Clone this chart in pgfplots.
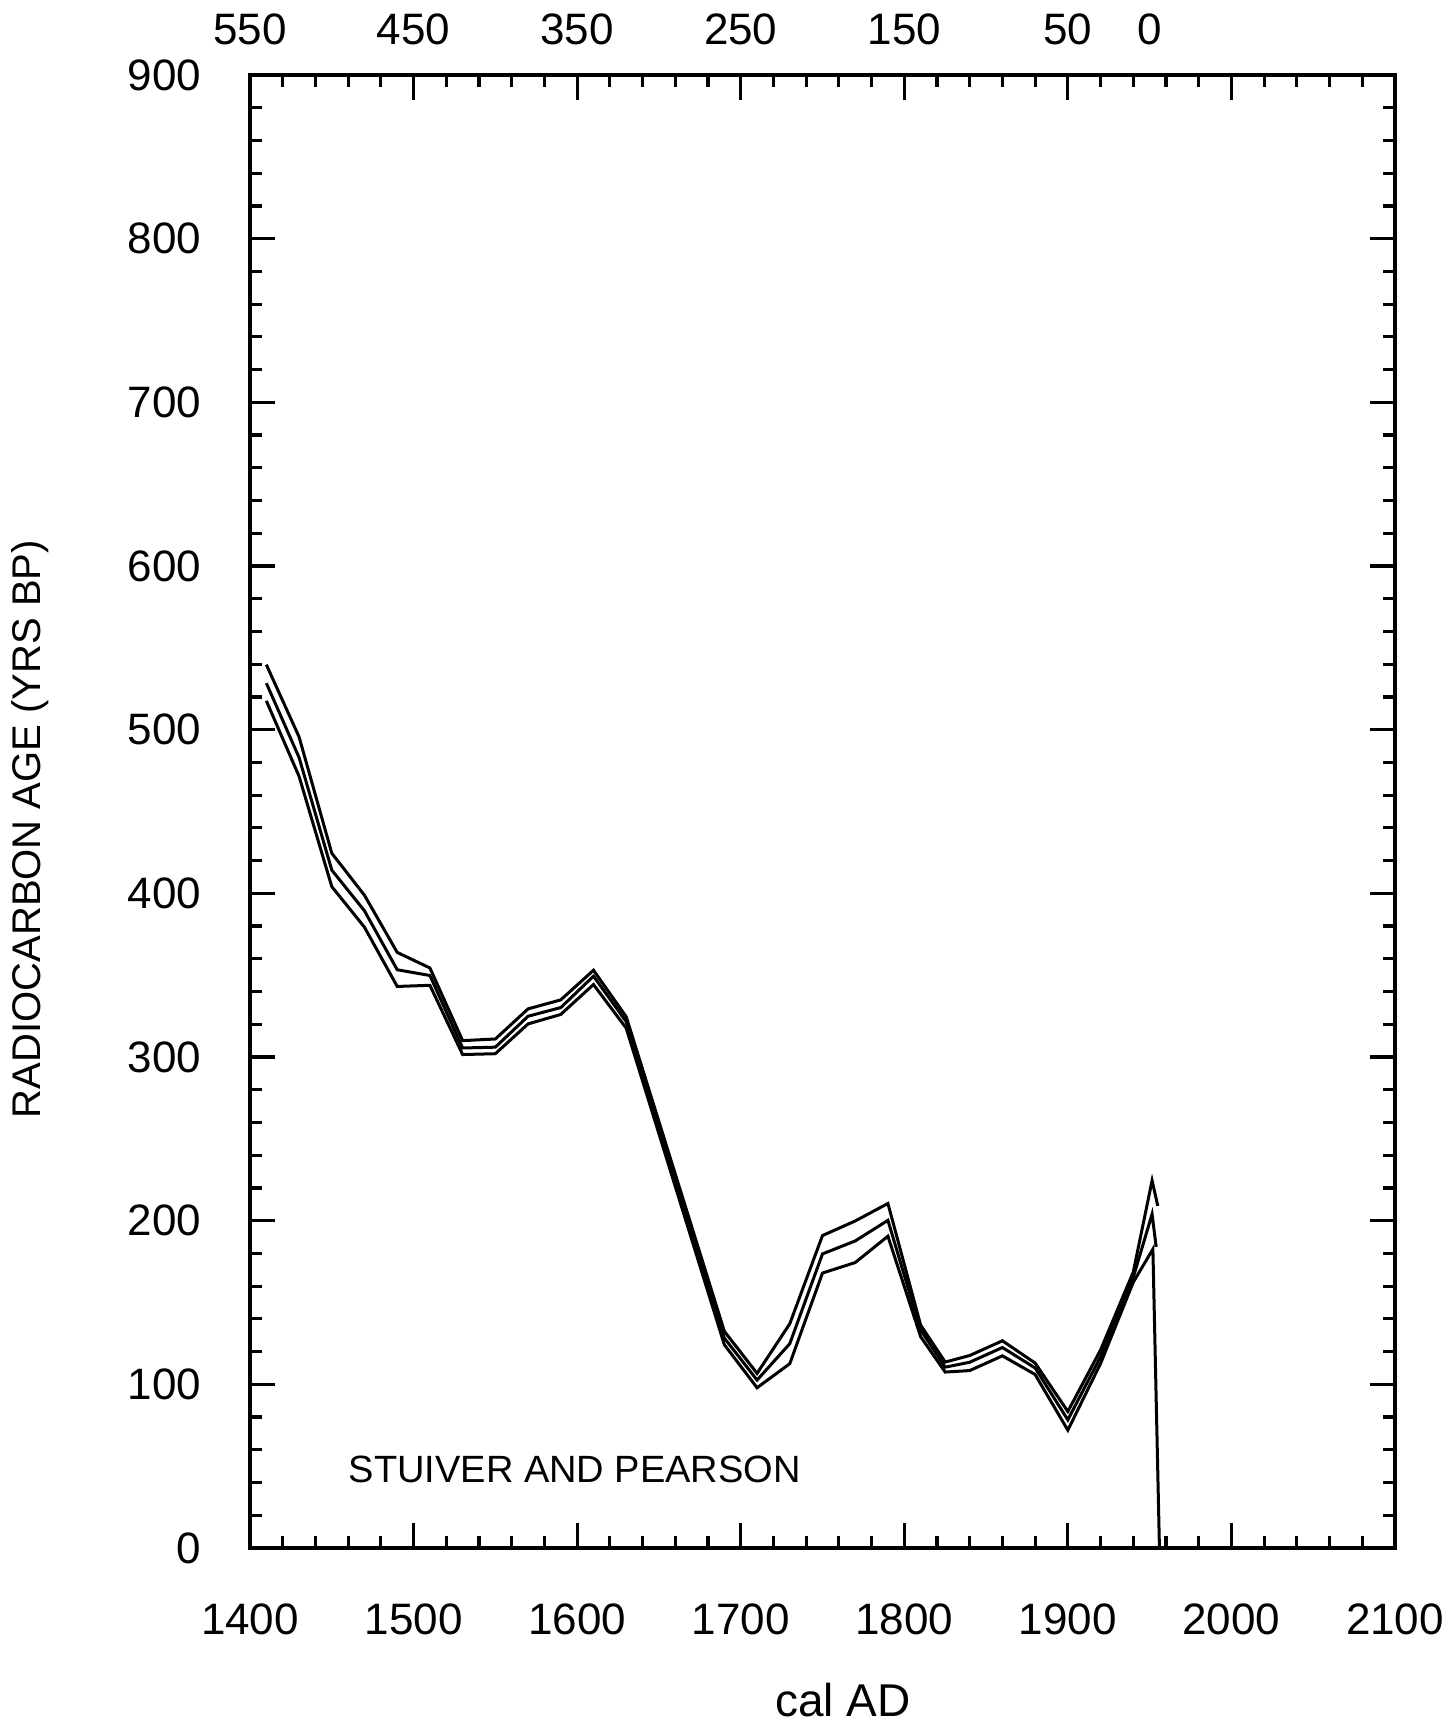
\documentclass[border=0pt]{standalone}
\usepackage{fontspec}
\setmainfont{Liberation Sans}
\usepackage{pgfplots}
\pgfplotsset{compat=1.18}

\begin{document}
\begin{tikzpicture}
\useasboundingbox (-62.5pt,-43.75pt) rectangle (299.75pt,387pt);

\begin{axis}[%
at={(0,0)}, anchor=south west,
width=286.25pt, height=368.25pt, scale only axis,
xmin=1400, xmax=2100,
ymin=0, ymax=900,
xtick={1400,1500,...,2100},
ytick={0,100,...,900},
minor x tick num=4, minor y tick num=4,
tick align=inside,
xtick pos=both, ytick pos=both,
xticklabel pos=lower, yticklabel pos=left,
major tick length=6.25pt, minor tick length=3pt,
every tick/.append style={black, line width=0.8pt},
axis line style={line width=0.9pt},
/pgf/number format/assume math mode=true,
/pgf/number format/1000 sep={},
tick label style={font=\fontsize{11}{13}\selectfont, inner sep=0pt},
xticklabel style={anchor=north, yshift=-13.75pt},
yticklabel style={anchor=east, xshift=-12pt},
xlabel={cal AD},
xlabel style={at={(axis description cs:0.518,-0.0915)}, anchor=north, inner sep=0pt, font=\fontsize{11.5}{13}\selectfont},
ylabel={RADIOCARBON AGE (YRS BP)},
ylabel style={at={(axis description cs:-0.1921,0.488)}, anchor=center, inner sep=0pt, font=\fontsize{10}{12}\selectfont},
]

% upper curve
\addplot [black, line width=0.75pt] coordinates {
(1410,539.7)(1430,495.6)(1450,424.5)(1470,398.8)(1490,363.9)(1510,354.4)
(1530,310)(1550,311)(1570,329.4)(1590,334.9)(1610,353)(1630,324.6)
(1690,132.4)(1710,106.7)(1730,137)(1750,190.9)(1770,199.8)(1790,210.5)
(1810,136.2)(1825,113.6)(1840,117.6)(1860,126.6)(1880,113)(1900,83.4)
(1920,121)(1940,168.6)(1951.5,224.5)(1955,209)
};

% middle curve
\addplot [black, line width=0.75pt] coordinates {
(1410,528.4)(1430,483)(1450,414.2)(1470,389.3)(1490,353.3)(1510,349.8)
(1530,305.5)(1550,306)(1570,324.9)(1590,330.2)(1610,349.4)(1630,321.6)
(1690,128.3)(1710,102.6)(1730,124.8)(1750,179.7)(1770,187.6)(1790,200.2)
(1810,133.2)(1825,110.5)(1840,113.5)(1860,122.5)(1880,110)(1900,78.3)
(1920,116.8)(1940,165.4)(1951.5,204)(1954,184)
};

% lower curve
\addplot [black, line width=0.75pt] coordinates {
(1410,517.6)(1430,471.5)(1450,404.1)(1470,379.3)(1490,343.1)(1510,343.8)
(1530,301.5)(1550,302)(1570,320.2)(1590,326)(1610,344.3)(1630,317.6)
(1690,124.2)(1710,97.9)(1730,112.6)(1750,168)(1770,174.4)(1790,190.5)
(1810,129.1)(1825,107.5)(1840,108.4)(1860,117.4)(1880,106)(1900,72)
(1920,112.7)(1940,162.4)(1952,182.6)(1956,0)
};

\node[anchor=west, inner sep=0pt, font=\fontsize{9.5}{11}\selectfont] at (axis cs:1460,48) {STUIVER AND PEARSON};
\end{axis}

% years BP along the top
\begin{axis}[%
at={(0,0)}, anchor=south west,
width=286.25pt, height=368.25pt, scale only axis,
xmin=1400, xmax=2100,
ymin=0, ymax=900,
hide y axis,
axis x line*=top,
axis line style={draw=none},
xtick={1400,1500,1600,1700,1800,1900,1950},
xticklabels={550,450,350,250,150,50,0},
major tick length=0pt,
xtick style={draw=none},
xticklabel style={font=\fontsize{11}{13}\selectfont, inner sep=0pt, anchor=south, yshift=7.25pt},
]
\end{axis}
\end{tikzpicture}
\end{document}
